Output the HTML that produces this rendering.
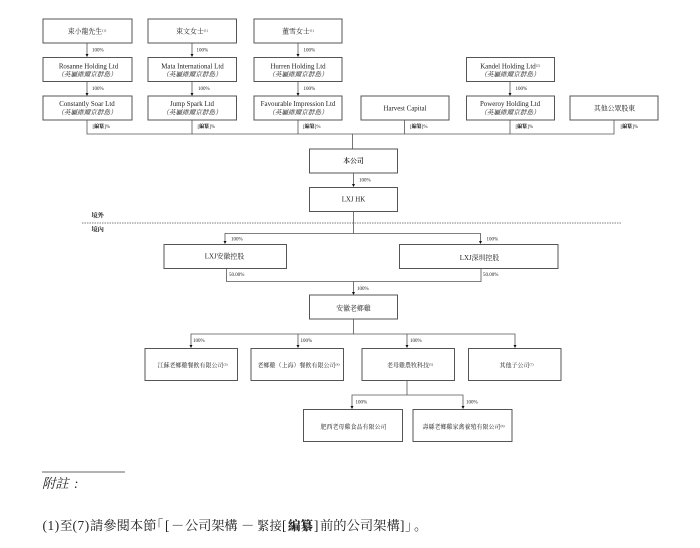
<!DOCTYPE html>
<html><head><meta charset="utf-8">
<style>
html,body{margin:0;padding:0;background:#fff}
svg{display:block}
text{font-family:"Liberation Serif","Noto Serif CJK SC",serif;fill:#222}
.b{fill:#fff;stroke:#555;stroke-width:1}
.l{stroke:#555;stroke-width:.8;fill:none}
.a{fill:#111;stroke:none}
.t{font-size:6.9px;text-anchor:middle}
.s{font-size:6px;text-anchor:middle}
.i{font-size:6.6px;text-anchor:middle;font-style:italic}
.p{font-size:5px}
.f{font-size:13.300px}
</style></head><body>
<svg width="700" height="548" viewBox="0 0 700 548" xmlns="http://www.w3.org/2000/svg">
<g class="l">
<path d="M87 43V55M87 81V94M192 43V55M192 81V94M298 43V55M298 81V94M510 82V94"/>
<path d="M87 120V134H614V120M192 120V134M298 120V134M404.500 120V134M510 120V134M352.500 134V149"/>
<path d="M353.500 173V185M353.500 211V233.500M225 242V233.500H480.500V242"/>
<path d="M226.500 268V281.500H481V268M353.500 281.500V293"/>
<path d="M353.500 319V334M191 346V334H515V346M298 334V346M407 334V346"/>
<path d="M407 381V395M352 407V395H463V407"/>
</g>
<path d="M82 223H621" stroke="#555" stroke-width=".7" stroke-dasharray="1.500 1"/>
<path class="a" d="M85.500 54H88.500L87 57ZM85.500 93H88.500L87 96ZM190.500 54H193.500L192 57ZM190.500 93H193.500L192 96ZM296.500 54H299.500L298 57ZM296.500 93H299.500L298 96ZM508.500 93H511.500L510 96ZM352 184H355L353.500 187ZM223.500 241H226.500L225 244ZM479 241H482L480.500 244ZM352 292H355L353.500 295ZM189.500 345H192.500L191 348ZM296.500 345H299.500L298 348ZM405.500 345H408.500L407 348ZM513.500 345H516.500L515 348ZM350.500 406H353.500L352 409ZM461.500 406H464.500L463 409Z"/>

<g class="b">
<rect x="43" y="19" width="89" height="24"/><rect x="148" y="19" width="88.500" height="24"/><rect x="254" y="19" width="88" height="24"/>
<rect x="43" y="57.500" width="89" height="24"/><rect x="148" y="57.500" width="88.500" height="24"/><rect x="254" y="57.500" width="88" height="24"/><rect x="466.500" y="57.500" width="88" height="24"/>
<rect x="43" y="96" width="89" height="24"/><rect x="148" y="96" width="88.500" height="24"/><rect x="254" y="96" width="88" height="24"/><rect x="361" y="96" width="88" height="24"/><rect x="466.500" y="96" width="88" height="24"/><rect x="570" y="96" width="88" height="24"/>
<rect x="309.500" y="149" width="88" height="24"/><rect x="309.500" y="187.500" width="88" height="24"/>
<rect x="164" y="244.500" width="122.500" height="24"/><rect x="399.500" y="244.500" width="158.500" height="24"/>
<rect x="309.500" y="295" width="88" height="24"/>
<rect x="145" y="348.500" width="92.500" height="32"/><rect x="251" y="348.500" width="92.500" height="32"/><rect x="362" y="348.500" width="92.500" height="32"/><rect x="468.500" y="348.500" width="92.500" height="32"/>
<rect x="303.500" y="409.500" width="99" height="32"/><rect x="413" y="409.500" width="99" height="32"/>
</g>

<text class="t" x="87" y="33.500">束小龍先生<tspan font-size="3.500" dy="-2">(1)</tspan></text>
<text class="t" x="192" y="33.500">束文女士<tspan font-size="3.500" dy="-2">(1)</tspan></text>
<text class="t" x="298" y="33.500">董雪女士<tspan font-size="3.500" dy="-2">(1)</tspan></text>
<text class="t" x="88.500" y="68.500">Rosanne Holding Ltd</text><text class="i" x="87" y="76.500">（英屬維爾京群島）</text>
<text class="t" x="192.500" y="68.500">Mata International Ltd</text><text class="i" x="192" y="76.500">（英屬維爾京群島）</text>
<text class="t" x="298" y="68.500">Hurren Holding Ltd</text><text class="i" x="298" y="76.500">（英屬維爾京群島）</text>
<text class="t" x="510" y="68.500">Kandel Holding Ltd<tspan font-size="3.500" dy="-2">(2)</tspan></text><text class="i" x="510" y="76.500">（英屬維爾京群島）</text>
<text class="t" x="87" y="106">Constantly Soar Ltd</text><text class="i" x="87" y="114.500">（英屬維爾京群島）</text>
<text class="t" x="192" y="106">Jump Spark Ltd</text><text class="i" x="192" y="114.500">（英屬維爾京群島）</text>
<text class="t" x="298" y="106">Favourable Impression Ltd</text><text class="i" x="298" y="114.500">（英屬維爾京群島）</text>
<text class="t" x="405" y="110.500">Harvest Capital</text>
<text class="t" x="510" y="106">Poweroy Holding Ltd</text><text class="i" x="510" y="114.500">（英屬維爾京群島）</text>
<text class="t" x="614.500" y="110.500">其他公眾股東</text>
<text class="t" x="353.500" y="163" font-weight="600">本公司</text>
<text class="t" x="353.500" y="201.500">LXJ HK</text>
<text class="t" x="224.500" y="258.500">LXJ安徽控股</text>
<text class="t" x="479.500" y="260">LXJ深圳控股</text>
<text class="t" x="353.500" y="310.500">安徽老鄉雞</text>
<text class="s" x="192.500" y="367.500">江蘇老鄉雞餐飲有限公司<tspan font-size="3.500" dy="-2">(3)</tspan></text>
<text class="s" x="298.500" y="367.500">老鄉雞（上海）餐飲有限公司<tspan font-size="3.500" dy="-2">(4)</tspan></text>
<text class="s" x="410" y="367.500">老母雞農牧科技<tspan font-size="3.500" dy="-2">(5)</tspan></text>
<text class="s" x="516.500" y="367.500">其他子公司<tspan font-size="3.500" dy="-2">(7)</tspan></text>
<text class="s" x="353.500" y="429">肥西老母雞食品有限公司</text>
<text class="s" x="463.500" y="429">壽縣老鄉雞家禽養殖有限公司<tspan font-size="3.500" dy="-2">(6)</tspan></text>

<g class="p">
<text x="92" y="51.500">100%</text><text x="92" y="90">100%</text>
<text x="196.500" y="51.500">100%</text><text x="198" y="90">100%</text>
<text x="303.500" y="51.500">100%</text><text x="303.500" y="90">100%</text>
<text x="515.500" y="90">100%</text>
<text x="359" y="181.500">100%</text>
<text x="231" y="240.500">100%</text><text x="486.500" y="240.500">100%</text>
<text x="229" y="276">50.00%</text><text x="483" y="276">50.00%</text>
<text x="357" y="290">100%</text>
<text x="193" y="342">100%</text><text x="300.500" y="342">100%</text><text x="410" y="342">100%</text>
<text x="355.500" y="403.500">100%</text><text x="466" y="403.500">100%</text>
</g>
<g font-size="5">
<text x="92.500" y="128">[<tspan font-weight="900">編纂</tspan>]%</text>
<text x="197.500" y="128">[<tspan font-weight="900">編纂</tspan>]%</text>
<text x="303" y="128">[<tspan font-weight="900">編纂</tspan>]%</text>
<text x="410" y="128">[<tspan font-weight="900">編纂</tspan>]%</text>
<text x="515.500" y="128">[<tspan font-weight="900">編纂</tspan>]%</text>
<text x="620.500" y="128">[<tspan font-weight="900">編纂</tspan>]%</text>
</g>
<text x="91.500" y="217.500" font-size="6.200" font-weight="bold">境外</text>
<text x="91.500" y="231.500" font-size="6.200" font-weight="bold">境內</text>

<path d="M42 472H125" stroke="#333" stroke-width=".8"/>
<text x="42" y="488" font-size="13.300" font-style="italic">附註</text>
<text x="74" y="488" font-size="13.300" font-style="italic">:</text>

<g class="f">
<text x="42.500" y="530" letter-spacing=".6">(1)</text>
<text x="60" y="530" font-size="12.500">至</text>
<text x="72.500" y="530" letter-spacing=".6">(7)</text>
<text x="90" y="530">請參閱本節</text>
<text x="150" y="530">「</text>
<text x="165" y="530">[</text>
<text x="171" y="530">－</text>
<text x="185" y="530" letter-spacing="-.2">公司架構</text>
<text x="241" y="530">－</text>
<text x="257" y="530" font-size="12.500">緊接</text>
<text x="282" y="530">[</text>
<text x="288" y="530" font-weight="900" font-size="12.500">編纂</text>
<text x="314" y="530">]</text>
<text x="320" y="530">前的公司架構</text>
<text x="400" y="530">]</text>
<text x="405" y="530">」</text>
<text x="414" y="530">。</text>
</g>
</svg>
</body></html>
